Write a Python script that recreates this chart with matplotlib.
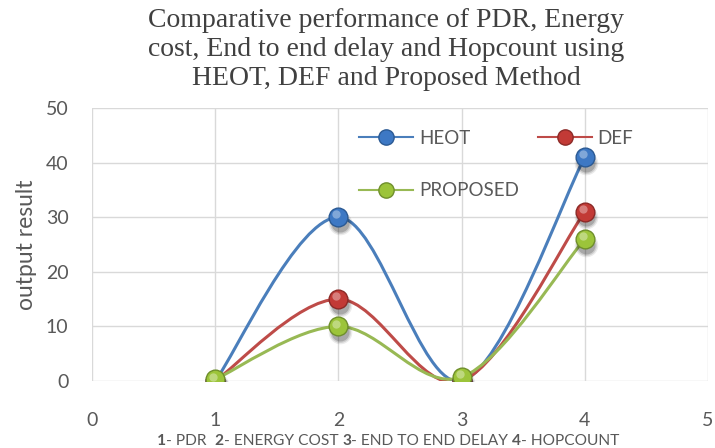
import numpy as np
import matplotlib.pyplot as plt
from matplotlib.path import Path
from matplotlib.patches import PathPatch
from matplotlib.lines import Line2D
import matplotlib.transforms as mtransforms

x = [1, 2, 3, 4]
heot = [0, 30, 0, 41]
dfe = [0, 15, 0, 31]
proposed = [0.3, 10, 0.7, 26]

names = ['HEOT', 'DEF', 'PROPOSED']
colors = ['#4a7ebb', '#be4b48', '#98b954']
faces = ['#3d78c4', '#c23a36', '#9cc43a']
edges = ['#2b5a94', '#8c2a27', '#6f8f2c']

title = ('Comparative performance of PDR, Energy\n'
         'cost, End to end delay and Hopcount using\n'
         'HEOT, DEF and Proposed Method')
xlabel_parts = [('1', 'bold'), ('- PDR  ', 'normal'), ('2', 'bold'),
                ('- ENERGY COST ', 'normal'), ('3', 'bold'),
                ('- END TO END DELAY ', 'normal'), ('4', 'bold'),
                ('- HOPCOUNT', 'normal')]

grey = '#595959'
sans = 'Lato'


def smooth_path(xs, ys):
    # Excel-like smoothing: cubic bezier, catmull-rom control points
    p = np.column_stack([xs, ys]).astype(float)
    n = len(p)
    verts = [p[0]]
    codes = [Path.MOVETO]
    for i in range(n - 1):
        prev = p[max(i - 1, 0)]
        nxt = p[min(i + 2, n - 1)]
        c1 = p[i] + (p[i + 1] - prev) / 6
        c2 = p[i + 1] - (nxt - p[i]) / 6
        verts += [c1, c2, p[i + 1]]
        codes += [Path.CURVE4] * 3
    return Path(verts, codes)


fig = plt.figure(figsize=(7.15, 4.48), dpi=100)
ax = fig.add_axes([0.1287, 0.1496, 0.8615, 0.6094])

series = [heot, dfe, proposed]
for ys, c in zip(series, colors):
    ax.add_patch(PathPatch(smooth_path(x, ys), fc='none', ec=c, lw=2.2,
                           transform=ax.transData, zorder=3, capstyle='round'))

shadow_tr = mtransforms.offset_copy(ax.transData, fig=fig, x=1, y=-4, units='points')
hl_tr = mtransforms.offset_copy(ax.transData, fig=fig, x=-1.5, y=2, units='points')
for k, (ys, f, e) in enumerate(zip(series, faces, edges)):
    z = 5 + k * 3
    for s, a in [(17, 0.08), (15, 0.12), (13, 0.18)]:
        ax.plot(x, ys, 'o', ms=s, color='black', alpha=a, mec='none',
                transform=shadow_tr, zorder=z)
    ax.plot(x, ys, 'o', ms=13.5, mfc=f, mec=e, mew=1.0, zorder=z + 1)
    ax.plot(x, ys, 'o', ms=6, color='white', alpha=0.35, mec='none',
            transform=hl_tr, zorder=z + 2)

ax.set_xlim(0, 5)
ax.set_ylim(0, 50)
ax.set_xticks(range(0, 6))
ax.set_yticks(range(0, 51, 10))
ax.grid(True, color='#d9d9d9', lw=1.0)
ax.set_axisbelow(True)
for s in ax.spines.values():
    s.set_visible(False)
ax.tick_params(length=0, labelsize=14, labelcolor=grey)
ax.tick_params(axis='x', pad=22)
ax.tick_params(axis='y', pad=17)
for lab in ax.get_xticklabels() + ax.get_yticklabels():
    lab.set_family(sans)

ax.set_ylabel('output result', fontsize=16.5, color=grey, family=sans, labelpad=6)
fig.text(386 / 715, 0.982, title, ha='center', va='top', fontsize=20,
         family='Liberation Serif', color='#404040', linespacing=1.2)

# x label with bold numbers, pieces chained one after another
prev = fig.text(157 / 715, 1 - 445 / 448, xlabel_parts[0][0], fontsize=11.2,
                weight=xlabel_parts[0][1], color=grey, family=sans, va='baseline')
for txt, w in xlabel_parts[1:]:
    prev = ax.annotate(txt, xy=(1, 0), xycoords=prev, va='bottom', ha='left',
                       fontsize=11.2, weight=w, color=grey, family=sans)

# legend: two columns, filled column-first -> HEOT, DEF on the top row
handles = [Line2D([], [], color=c, lw=1.5, marker='o', ms=11, mfc=f, mec=e)
           for c, f, e in zip(colors, faces, edges)]
order = [0, 2, 1]
ax.legend([handles[i] for i in order], [names[i] for i in order], ncol=2,
          loc='upper left', bbox_to_anchor=(342 / 715, 1 - 113 / 448),
          bbox_transform=fig.transFigure, frameon=False,
          prop={'family': sans, 'size': 13.5}, labelcolor=grey,
          handlelength=2.9, columnspacing=1.0, labelspacing=1.9,
          handletextpad=0.3)

fig.savefig('out.png', dpi=100)
